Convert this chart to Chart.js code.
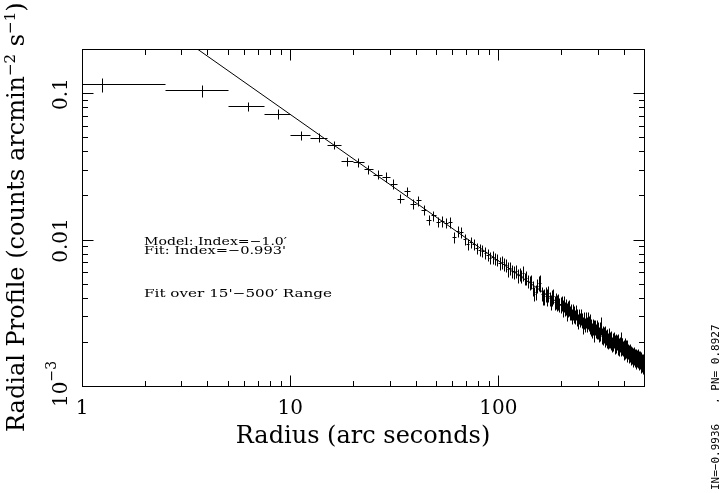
<!DOCTYPE html>
<html>
<head>
<meta charset="utf-8">
<script src="https://cdn.jsdelivr.net/npm/chart.js@4.4.0/dist/chart.umd.min.js"></script>
<style>
html, body { margin: 0; padding: 0; background: #fff; }
</style>
</head>
<body>
<canvas id="myChart" width="719" height="493"></canvas>
<script>
// bin centres (arc seconds), 2.5" wide bins
var radius = [
  1.25, 3.75, 6.25, 8.75, 11.25, 13.75, 16.25, 18.75, 21.25, 23.75, 26.25, 28.75, 31.25, 33.75, 36.25, 38.75, 41.25, 43.75, 46.25, 48.75,
  51.25, 53.75, 56.25, 58.75, 61.25, 63.75, 66.25, 68.75, 71.25, 73.75, 76.25, 78.75, 81.25, 83.75, 86.25, 88.75, 91.25, 93.75, 96.25, 98.75,
  101.25, 103.75, 106.25, 108.75, 111.25, 113.75, 116.25, 118.75, 121.25, 123.75, 126.25, 128.75, 131.25, 133.75, 136.25, 138.75, 141.25, 143.75, 146.25, 148.75,
  151.25, 153.75, 156.25, 158.75, 161.25, 163.75, 166.25, 168.75, 171.25, 173.75, 176.25, 178.75, 181.25, 183.75, 186.25, 188.75, 191.25, 193.75, 196.25, 198.75,
  201.25, 203.75, 206.25, 208.75, 211.25, 213.75, 216.25, 218.75, 221.25, 223.75, 226.25, 228.75, 231.25, 233.75, 236.25, 238.75, 241.25, 243.75, 246.25, 248.75,
  251.25, 253.75, 256.25, 258.75, 261.25, 263.75, 266.25, 268.75, 271.25, 273.75, 276.25, 278.75, 281.25, 283.75, 286.25, 288.75, 291.25, 293.75, 296.25, 298.75,
  301.25, 303.75, 306.25, 308.75, 311.25, 313.75, 316.25, 318.75, 321.25, 323.75, 326.25, 328.75, 331.25, 333.75, 336.25, 338.75, 341.25, 343.75, 346.25, 348.75,
  351.25, 353.75, 356.25, 358.75, 361.25, 363.75, 366.25, 368.75, 371.25, 373.75, 376.25, 378.75, 381.25, 383.75, 386.25, 388.75, 391.25, 393.75, 396.25, 398.75,
  401.25, 403.75, 406.25, 408.75, 411.25, 413.75, 416.25, 418.75, 421.25, 423.75, 426.25, 428.75, 431.25, 433.75, 436.25, 438.75, 441.25, 443.75, 446.25, 448.75,
  451.25, 453.75, 456.25, 458.75, 461.25, 463.75, 466.25, 468.75, 471.25, 473.75, 476.25, 478.75, 481.25, 483.75, 486.25, 488.75, 491.25, 493.75, 496.25, 498.75
];
var binHalf = 1.25;

// radial profile (counts arcmin^-2 s^-1)
var profile = [
  0.115, 0.1045, 0.081, 0.0725, 0.0515, 0.0497, 0.0443, 0.0342, 0.0337, 0.0301, 0.0278, 0.0268, 0.0241, 0.0190, 0.0214, 0.0176, 0.0185, 0.0159, 0.0137, 0.0146,
  0.0132, 0.0133, 0.0130, 0.0131, 0.0104, 0.0114, 0.0112, 0.0101, 0.0093, 0.0096, 0.0093, 0.0087, 0.0085, 0.0084, 0.0081, 0.0079, 0.0075, 0.0076, 0.0074, 0.0073,
  0.0069, 0.0070, 0.0068, 0.0067, 0.0063, 0.0064, 0.0061, 0.0060, 0.0061, 0.0057, 0.0058, 0.0056, 0.0059, 0.0054, 0.0055, 0.0052, 0.0051, 0.00513, 0.00465, 0.00428,
  0.00436, 0.00484, 0.00504, 0.00505, 0.00426, 0.00407, 0.00409, 0.00424, 0.00406, 0.00429, 0.00398, 0.00373, 0.00403, 0.00413, 0.00373, 0.00383, 0.00371, 0.00377, 0.00358, 0.00360,
  0.00370, 0.00341, 0.00365, 0.00340, 0.00349, 0.00322, 0.00338, 0.00344, 0.00317, 0.00323, 0.00301, 0.00322, 0.00310, 0.00297, 0.00321, 0.00297, 0.00279, 0.00300, 0.00282, 0.00299,
  0.00282, 0.00262, 0.00288, 0.00279, 0.00263, 0.00285, 0.00264, 0.00282, 0.00269, 0.00254, 0.00277, 0.00254, 0.00242, 0.00255, 0.00250, 0.00228, 0.00253, 0.00239, 0.00251, 0.00237,
  0.00242, 0.00226, 0.00245, 0.00232, 0.00260, 0.00221, 0.00229, 0.00220, 0.00225, 0.00210, 0.00226, 0.00216, 0.00210, 0.00219, 0.00204, 0.00220, 0.00206, 0.00208, 0.00201, 0.00211,
  0.00194, 0.00204, 0.00197, 0.00208, 0.00198, 0.00189, 0.00199, 0.00192, 0.00199, 0.00186, 0.00202, 0.00191, 0.00184, 0.00194, 0.00198, 0.00182, 0.00187, 0.00191, 0.00181, 0.00174,
  0.00184, 0.00188, 0.00173, 0.00182, 0.00176, 0.00166, 0.00181, 0.00174, 0.00165, 0.00171, 0.00166, 0.00172, 0.00159, 0.00165, 0.00161, 0.00166, 0.00154, 0.00163, 0.00157, 0.00164,
  0.00154, 0.00158, 0.00160, 0.00150, 0.00157, 0.00153, 0.00158, 0.00150, 0.00153, 0.00145, 0.00153, 0.00148, 0.00144, 0.00152, 0.00140, 0.00147, 0.00143, 0.00148, 0.00139, 0.00142
];

// fractional 1-sigma error of each bin
var profileErr = [
  0.11, 0.095, 0.065, 0.075, 0.07, 0.07, 0.07, 0.075, 0.075, 0.07, 0.075, 0.08, 0.075, 0.07, 0.075, 0.075, 0.08, 0.075, 0.08, 0.08,
  0.08, 0.085, 0.08, 0.085, 0.09, 0.085, 0.09, 0.085, 0.09, 0.09, 0.085, 0.09, 0.095, 0.09, 0.09, 0.095, 0.09, 0.10, 0.095, 0.09,
  0.10, 0.095, 0.10, 0.10, 0.12, 0.10, 0.10, 0.105, 0.10, 0.11, 0.10, 0.105, 0.11, 0.10, 0.11, 0.105, 0.11, 0.11, 0.12, 0.11,
  0.12, 0.11, 0.12, 0.13, 0.11, 0.12, 0.12, 0.11, 0.13, 0.12, 0.11, 0.12, 0.13, 0.12, 0.11, 0.12, 0.12, 0.13, 0.11, 0.12,
  0.12, 0.13, 0.12, 0.11, 0.12, 0.14, 0.12, 0.12, 0.11, 0.13, 0.12, 0.12, 0.13, 0.11, 0.12, 0.13, 0.12, 0.12, 0.11, 0.13,
  0.12, 0.13, 0.12, 0.12, 0.11, 0.13, 0.12, 0.13, 0.12, 0.11, 0.12, 0.13, 0.12, 0.12, 0.13, 0.12, 0.12, 0.11, 0.13, 0.12,
  0.13, 0.12, 0.12, 0.13, 0.14, 0.12, 0.12, 0.13, 0.12, 0.12, 0.13, 0.12, 0.13, 0.12, 0.12, 0.13, 0.12, 0.12, 0.13, 0.12,
  0.12, 0.13, 0.12, 0.12, 0.13, 0.12, 0.13, 0.12, 0.12, 0.13, 0.12, 0.12, 0.13, 0.12, 0.18, 0.12, 0.13, 0.12, 0.12, 0.13,
  0.12, 0.13, 0.12, 0.13, 0.12, 0.12, 0.13, 0.12, 0.13, 0.12, 0.12, 0.13, 0.12, 0.13, 0.12, 0.12, 0.13, 0.12, 0.12, 0.13,
  0.12, 0.13, 0.12, 0.13, 0.12, 0.12, 0.13, 0.12, 0.13, 0.12, 0.13, 0.12, 0.13, 0.12, 0.13, 0.12, 0.13, 0.12, 0.13, 0.12
];

// power-law model, index -1.0
var modelR = [3.56, 500];
var modelY = [0.201, 0.00143];

// axis ticks
var xMajor = [10, 100];
var xMinor = [2, 3, 4, 5, 6, 7, 8, 9, 20, 30, 40, 50, 60, 70, 80, 90, 200, 300, 400];
var xLabels = [[1, '1'], [10, '10'], [100, '100']];
var yMajor = [0.01, 0.1];
var yMinor = [0.002, 0.003, 0.004, 0.005, 0.006, 0.007, 0.008, 0.009, 0.02, 0.03, 0.04, 0.05, 0.06, 0.07, 0.08, 0.09];
var yLabels = [[0.1, '0.1'], [0.01, '0.01']];

var notes = ['Model: Index=\u22121.0\u2032', 'Fit: Index=\u22120.993\'', 'Fit over 15\'\u2212500\u2032 Range'];
var sideNote = 'IN=\u22120.9936   , PN= 0.8927';

var SERIF = '"DejaVu Serif", "Liberation Serif", serif';

// draws a sequence of [text, size, rise] pieces along the current baseline
function drawPieces(ctx, pieces, x, y) {
    pieces.forEach(function (p) {
        ctx.font = p[1] + 'px ' + SERIF;
        ctx.fillText(p[0], x, y - p[2]);
        x += ctx.measureText(p[0]).width;
    });
}

const plotDecor = {
    id: 'plotDecor',
    afterDatasetsDraw(chart) {
        const ctx = chart.ctx, xs = chart.scales.x, ys = chart.scales.y, a = chart.chartArea;
        const px = v => Math.round(xs.getPixelForValue(v)) + 0.5;
        const py = v => Math.round(ys.getPixelForValue(v)) + 0.5;

        ctx.save();
        ctx.beginPath();
        ctx.rect(a.left, a.top, a.right - a.left, a.bottom - a.top);
        ctx.clip();
        ctx.strokeStyle = '#000';
        ctx.lineWidth = 1;
        ctx.beginPath();
        for (let i = 0; i < radius.length; i++) {
            const x = px(radius[i]), y = py(profile[i]);
            ctx.moveTo(px(Math.max(radius[i] - binHalf, xs.min)), y);
            ctx.lineTo(px(radius[i] + binHalf), y);
            ctx.moveTo(x, py(profile[i] * (1 + profileErr[i])));
            ctx.lineTo(x, py(profile[i] * (1 - profileErr[i])));
        }
        ctx.stroke();
        ctx.restore();
    },
    afterDraw(chart) {
        const ctx = chart.ctx, xs = chart.scales.x, ys = chart.scales.y, a = chart.chartArea;
        const px = v => Math.round(xs.getPixelForValue(v)) + 0.5;
        const py = v => Math.round(ys.getPixelForValue(v)) + 0.5;
        const L = Math.round(a.left) + 0.5, R = Math.round(a.right) + 0.5;
        const T = Math.round(a.top) + 0.5, B = Math.round(a.bottom) + 0.5;

        ctx.save();
        ctx.strokeStyle = '#000';
        ctx.fillStyle = '#000';
        ctx.lineWidth = 1;
        ctx.strokeRect(L, T, R - L, B - T);

        // inward ticks on all four sides
        ctx.beginPath();
        const xt = (v, len) => {
            const x = px(v);
            ctx.moveTo(x, B); ctx.lineTo(x, B - len);
            ctx.moveTo(x, T); ctx.lineTo(x, T + len);
        };
        const yt = (v, len) => {
            const y = py(v);
            ctx.moveTo(L, y); ctx.lineTo(L + len, y);
            ctx.moveTo(R, y); ctx.lineTo(R - len, y);
        };
        xMajor.forEach(v => xt(v, 11));
        xMinor.forEach(v => xt(v, 5.5));
        yMajor.forEach(v => yt(v, 11));
        yMinor.forEach(v => yt(v, 5.5));
        ctx.stroke();

        // x tick labels
        ctx.font = '20px ' + SERIF;
        ctx.textAlign = 'center';
        ctx.textBaseline = 'alphabetic';
        xLabels.forEach(l => ctx.fillText(l[1], xs.getPixelForValue(l[0]), 414));

        // x title
        ctx.font = '24px ' + SERIF;
        ctx.fillText('Radius (arc seconds)', (a.left + a.right) / 2, 443);

        // y tick labels, rotated
        yLabels.forEach(l => {
            ctx.save();
            ctx.translate(67, ys.getPixelForValue(l[0]) + 1);
            ctx.rotate(-Math.PI / 2);
            ctx.font = '20px ' + SERIF;
            ctx.textAlign = 'center';
            ctx.fillText(l[1], 0, 0);
            ctx.restore();
        });
        ctx.save();
        ctx.translate(67, 407);
        ctx.rotate(-Math.PI / 2);
        ctx.textAlign = 'left';
        drawPieces(ctx, [['10', 20, 0], ['\u22123', 14, 11]], 0, 0);
        ctx.restore();

        // y title, rotated
        ctx.save();
        ctx.translate(24, 432);
        ctx.rotate(-Math.PI / 2);
        ctx.textAlign = 'left';
        drawPieces(ctx, [
            ['Radial Profile (counts arcmin', 24, 0],
            ['\u22122', 15, 9],
            [' s', 24, 0],
            ['\u22121', 15, 9],
            [')', 24, 0]
        ], 0, 0);
        ctx.restore();

        // fit notes, stretched to the width they take in the original
        ctx.textAlign = 'left';
        ctx.font = '11.5px ' + SERIF;
        [[notes[0], 245, 143], [notes[1], 254, 142], [notes[2], 297, 188]].forEach(n => {
            const w = ctx.measureText(n[0]).width;
            ctx.save();
            ctx.translate(144, n[1]);
            ctx.scale(n[2] / w, 1);
            ctx.fillText(n[0], 0, 0);
            ctx.restore();
        });

        // side note
        ctx.save();
        ctx.translate(719, 490);
        ctx.rotate(-Math.PI / 2);
        ctx.font = '11px "DejaVu Sans Mono", monospace';
        ctx.fillText(sideNote, 0, 0);
        ctx.restore();

        ctx.restore();
    }
};

new Chart(document.getElementById('myChart'), {
    type: 'scatter',
    data: {
        datasets: [{
            data: radius.map((r, i) => ({ x: r, y: profile[i] })),
            pointRadius: 0,
            showLine: false
        }, {
            data: modelR.map((r, i) => ({ x: r, y: modelY[i] })),
            showLine: true,
            borderColor: '#000',
            borderWidth: 1,
            pointRadius: 0
        }]
    },
    options: {
        responsive: false,
        animation: false,
        layout: { padding: { left: 82, top: 49, right: 75, bottom: 107 } },
        plugins: { legend: { display: false }, tooltip: { enabled: false } },
        scales: {
            x: { type: 'logarithmic', min: 1, max: 500, display: false },
            y: { type: 'logarithmic', min: 0.001, max: 0.2, display: false }
        }
    },
    plugins: [plotDecor]
});
</script>
</body>
</html>
